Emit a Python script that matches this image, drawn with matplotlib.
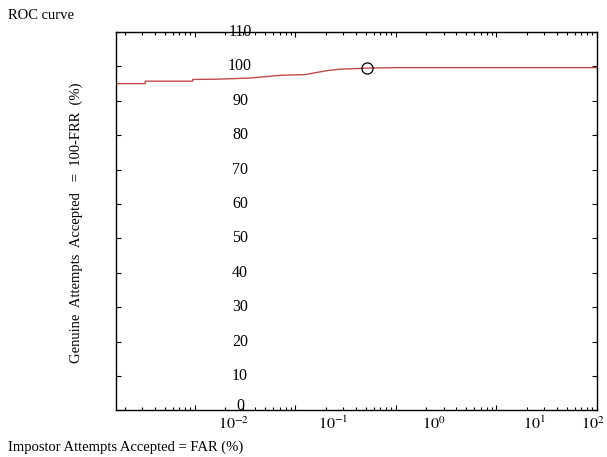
import matplotlib
matplotlib.use("Agg")
import matplotlib.pyplot as plt
from matplotlib.ticker import LogLocator, NullFormatter

# ROC curve values (FAR %, GAR %)
far = [0.0015, 0.0032, 0.0032, 0.0095, 0.0095, 0.0177, 0.035, 0.070, 0.125,
       0.16, 0.21, 0.28, 0.44, 0.51, 1.1, 100]
gar = [95.0, 95.0, 95.7, 95.7, 96.2, 96.3, 96.6, 97.4, 97.6,
       98.2, 98.8, 99.2, 99.4, 99.5, 99.65, 99.65]
eer_far = [0.51]
eer_gar = [99.5]

x_decades = [1e-2, 1e-1, 1e0, 1e1, 1e2]
x_labels = ['$10^{-2}$', '$10^{-1}$', '$10^{0}$', '$10^{1}$', '$10^{2}$']
y_ticks = [0, 10, 20, 30, 40, 50, 60, 70, 80, 90, 100, 110]

plt.rcParams['font.family'] = ['Liberation Serif', 'DejaVu Serif']
plt.rcParams['mathtext.fontset'] = 'stix'
plt.rcParams['font.size'] = 10.5

fig = plt.figure(figsize=(6.07, 4.57), dpi=100)
ax = fig.add_axes([0.191, 0.102, 0.7925, 0.828])

ax.plot(far, gar, color='#bf4a4a', lw=1.0)
ax.plot(eer_far, eer_gar, 'o', mfc='none', mec='black', ms=8, mew=0.9)

ax.set_xscale('log')
ax.set_xlim(10 ** -2.786, 100)
ax.set_ylim(0, 110)
ax.set_yticks(y_ticks)
ax.xaxis.set_major_locator(LogLocator(base=10, numticks=10))
ax.xaxis.set_minor_locator(LogLocator(base=10, subs=range(2, 10), numticks=20))
ax.xaxis.set_minor_formatter(NullFormatter())
ax.tick_params(which='both', direction='in', top=True, right=True,
               labelbottom=False, labelleft=False, width=0.8)
ax.tick_params(which='major', length=3.5)
ax.tick_params(which='minor', length=2.5)
for s in ax.spines.values():
    s.set_linewidth(1.0)

# tick labels are drawn shifted / inside the plot in the original
for i, (d, lab) in enumerate(zip(x_decades, x_labels)):
    dx = 27.5 if i < len(x_decades) - 1 else -3
    ax.annotate(lab, xy=(d, 0), xycoords=('data', 'axes fraction'),
                xytext=(dx, -4), textcoords='offset points',
                ha='center', va='top', fontsize=11.5)
for v in y_ticks:
    dy = 3 if v == 0 else 0
    ax.annotate(str(v), xy=(0.258, v), xycoords=('axes fraction', 'data'),
                xytext=(0, dy), textcoords='offset points',
                ha='center', va='center', fontsize=11.5)

fig.text(0.013, 0.967, 'ROC curve', ha='left', va='center')
fig.text(0.013, 0.022, 'Impostor Attempts Accepted = FAR (%)', ha='left', va='center')
fig.text(0.125, 0.512, 'Genuine  Attempts  Accepted   =  100-FRR  (%)',
         rotation=90, ha='center', va='center')

fig.savefig('out.png', dpi=100)
